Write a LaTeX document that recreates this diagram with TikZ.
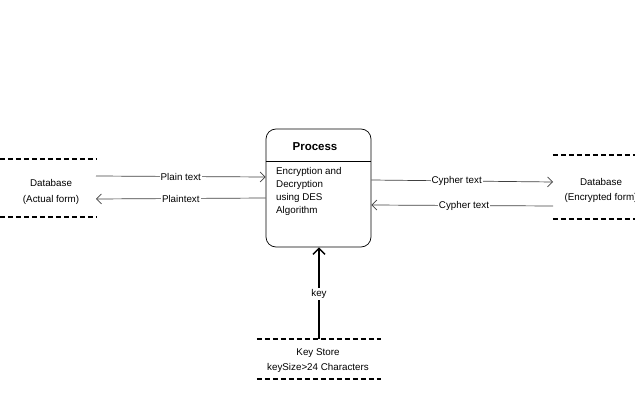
\documentclass[tikz,border=0pt]{standalone}
\usepackage{fontspec}
\setmainfont{Liberation Sans}
\usepackage{tikz}
\usetikzlibrary{positioning, arrows.meta}

\begin{document}
\begin{tikzpicture}[x=1pt, y=-1pt, font=\fontsize{9.8}{13}\selectfont]
	\tikzset{store/.style={minimum width=#1, minimum height=58pt, inner sep=0pt, align=center, font=\fontsize{9.8}{16}\selectfont},
		storeline/.style={line width=1.5pt, dash pattern=on 5pt off 3pt},
		flow/.style={draw=black!75, line width=0.7pt, -{Straight Barb[length=5pt, width=10pt]}},
		lbl/.style={fill=white, inner sep=1pt}}
	\useasboundingbox (0,0) rectangle (635,420);
	% process box
	\node[draw, rounded corners=10pt, minimum width=105pt, minimum height=118pt, line width=0.7pt](proc) at (318.5,188) {};
	\node[font=\fontsize{11.5}{13}\selectfont\bfseries](title) at (315,147) {Process};
	\draw[line width=0.7pt] (proc.west |- 0,161) -- (proc.east |- 0,161);
	\node[anchor=north west, align=left, inner sep=0pt](body) at (276,167.5) {Encryption and\\Decryption\\using DES\\Algorithm};
	% stores
	\node[store=96pt](dbl) at (48,188) {};
	\node[align=center, font=\fontsize{9.8}{16}\selectfont](dbltext) at (51,191.5) {Database\\(Actual form)};
	\draw[storeline] (dbl.north west) -- (dbl.north east);
	\draw[storeline] (dbl.south west) -- (dbl.south east);
	\node[store=82pt, minimum height=64pt](dbr) at (594,187) {};
	\node[align=center, font=\fontsize{9.8}{15}\selectfont](dbrtext) at (601,190) {Database\\(Encrypted form)};
	\draw[storeline] (dbr.north west) -- (dbr.north east);
	\draw[storeline] (dbr.south west) -- (dbr.south east);
	\node[store=124pt, minimum height=40pt](ks) at (319,359) {};
	\node[align=center, font=\fontsize{9.8}{15}\selectfont](kstext) at (318,361) {Key Store\\keySize>24 Characters};
	\draw[storeline] (ks.north west) -- (ks.north east);
	\draw[storeline] (ks.south west) -- (ks.south east);
	% flows
	\coordinate (p1) at (96,176);
	\coordinate (p2) at (96,199);
	\coordinate (c1) at (553,182);
	\coordinate (c2) at (553,206);
	\draw[flow] (p1) -- (proc.west |- 0,177) node[lbl, pos=0.5] {Plain text};
	\draw[flow] (proc.west |- 0,198) -- (p2) node[lbl, pos=0.5] {Plaintext};
	\draw[flow] (proc.east |- 0,180) -- (c1) node[lbl, pos=0.47] {Cypher text};
	\draw[flow] (c2) -- (proc.east |- 0,205) node[lbl, pos=0.49] {Cypher text};
	\draw[line width=1.5pt, -{Straight Barb[length=6pt, width=12pt]}] (ks.north) -- (ks.north |- proc.south) node[lbl, pos=0.49] {key};
\end{tikzpicture}
\end{document}
